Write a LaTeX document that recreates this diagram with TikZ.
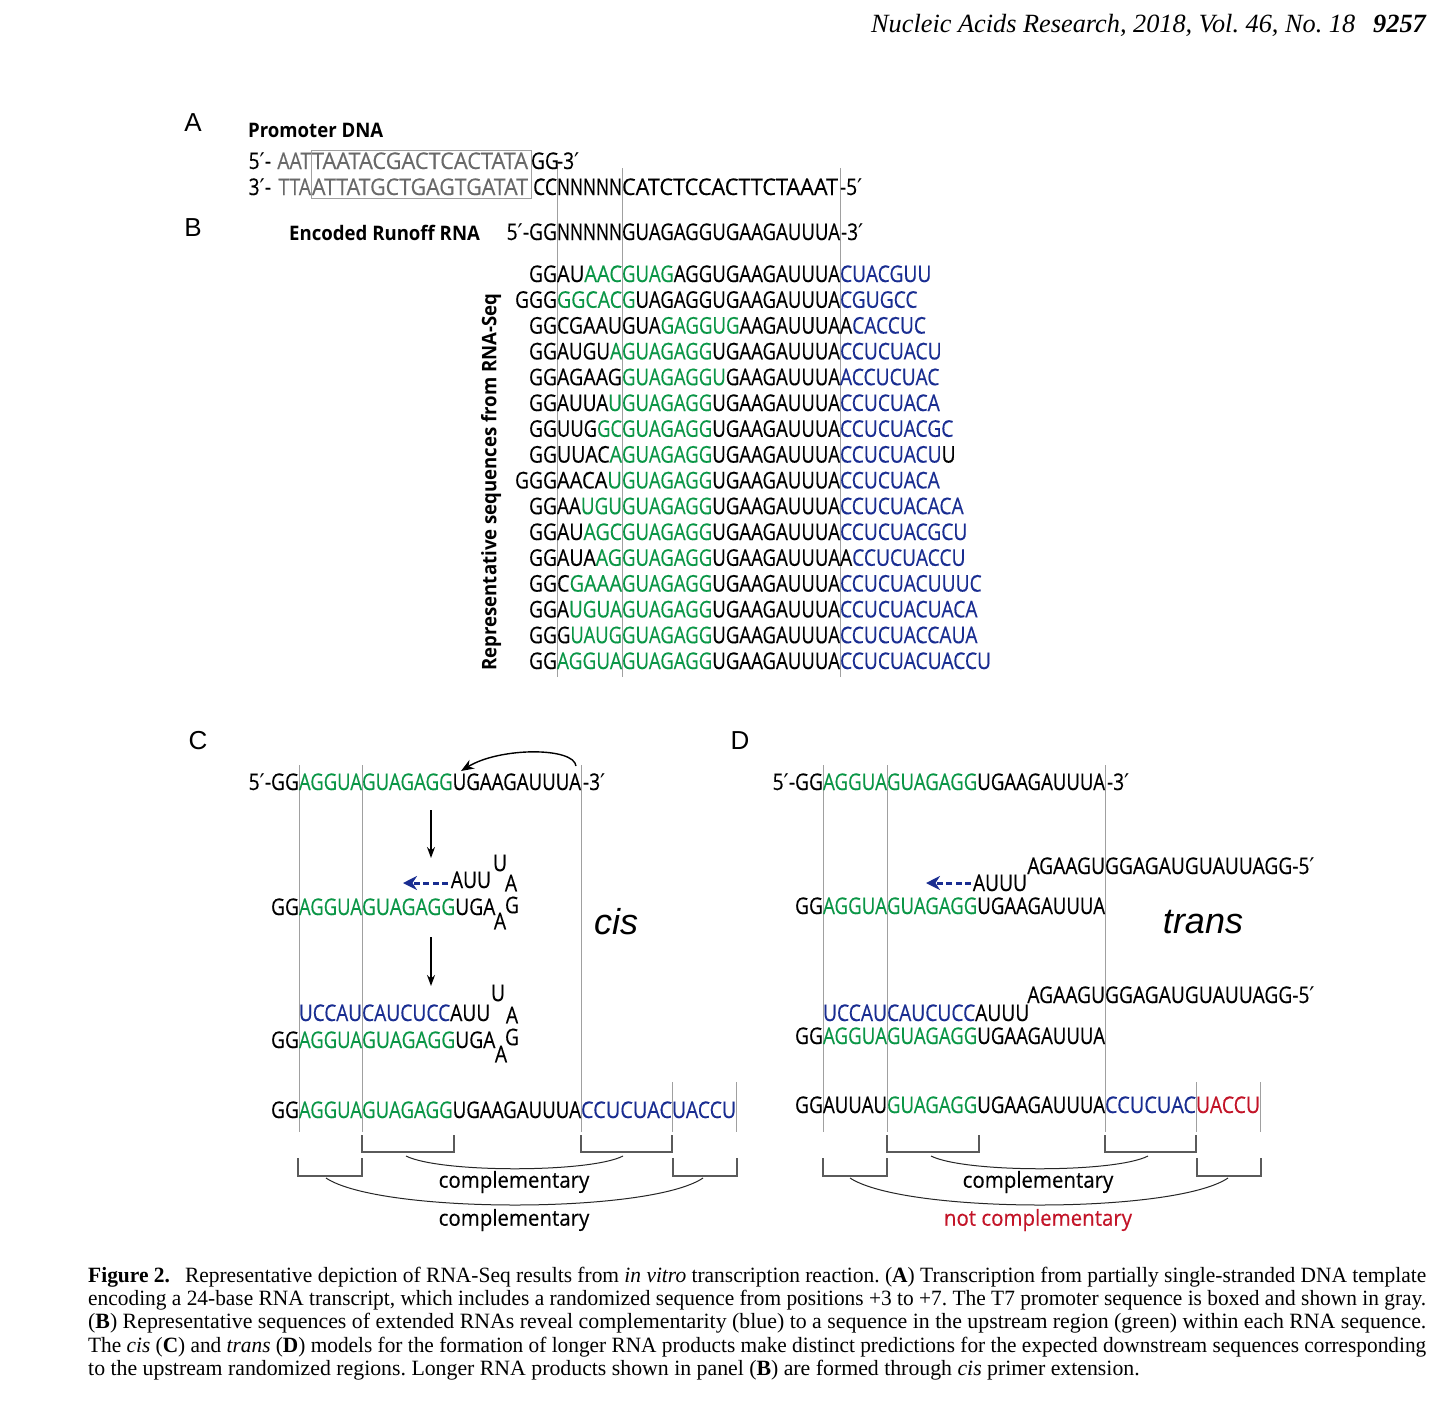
\documentclass[tikz,border=0pt]{standalone}
\usepackage{fontspec}
\usepackage{graphicx}
\usetikzlibrary{arrows.meta}
\setmainfont{Liberation Serif}
\newfontfamily\seqf[FakeStretch=0.835,FakeBold=0.35]{Open Sans}
\newfontfamily\labf[FakeStretch=0.93]{Open Sans}
\newfontfamily\compf[FakeStretch=0.93,FakeBold=0.3]{Open Sans}
\newfontfamily\helv{Liberation Sans}
\newfontfamily\djv{DejaVu Sans}
\definecolor{sgreen}{RGB}{10,150,70}
\definecolor{sblue}{RGB}{25,45,145}
\definecolor{sred}{RGB}{195,20,40}
\definecolor{sgray}{RGB}{105,105,105}
\definecolor{lgray}{RGB}{160,160,160}
\definecolor{dgray}{RGB}{90,90,90}
\newcommand\pr{{\djv\char"2032}}
\newcommand\GR[1]{\textcolor{sgreen}{#1}}
\newcommand\BL[1]{\textcolor{sblue}{#1}}
\newcommand\RD[1]{\textcolor{sred}{#1}}
\newcommand\fitw[2]{\resizebox{#1}{\height}{#2}}
\newcommand\capline[1]{\resizebox{1338pt}{\height}{#1}}
\newcommand\core{\GR{GUAGAGG}UGAAGAUUUA}
\newcommand\brow[6]{%
  \node[seq,anchor=base east] (#1p) at (557,#2) {#3};
  \node[seq,anchor=base west] (#1r) at (557,#2) {\fitw{65pt}{#4}};
  \node[seq,anchor=base west] (#1c) at (622,#2) {\fitw{218pt}{#5}};
  \node[seq,anchor=base west] (#1e) at (840,#2) {#6};}
\frenchspacing
\tikzset{
  seq/.style={inner sep=0pt, outer sep=0pt, font=\seqf\fontsize{23}{27}\selectfont},
  lab/.style={inner sep=0pt, font=\labf\bfseries\fontsize{20}{24}\selectfont},
  comp/.style={inner sep=0pt, font=\compf\fontsize{22}{26}\selectfont},
  panel/.style={inner sep=0pt, font=\helv\fontsize{26}{30}\selectfont},
  itl/.style={inner sep=0pt, font=\helv\itshape\fontsize{36}{40}\selectfont},
  captxt/.style={inner sep=0pt, font=\fontsize{21.8}{25}\selectfont},
  vline/.style={draw=lgray, line width=1pt},
  brk/.style={draw=dgray, line width=1.1pt},
  arcl/.style={draw=black!85, line width=1pt},
  dn/.style={-{Stealth[length=11pt,width=8pt]}, line width=1.4pt},
  curv/.style={-{Stealth[length=13pt,width=10pt]}, line width=1.4pt},
  bdash/.style={draw=sblue, line width=3pt, dash pattern=on 6pt off 3.5pt, -{Stealth[length=14pt,width=14pt]}}
}
\begin{document}
\begin{tikzpicture}[x=1pt,y=-1pt]
\fill[white] (0,0) rectangle (1456,1413);
\useasboundingbox (0,0) rectangle (1456,1413);

% header
\node[inner sep=0pt, anchor=base east, font=\fontsize{26.3}{29}\selectfont] (hdr) at (1426,33)
  {\itshape Nucleic Acids Research, 2018, Vol. 46, No. 18\hspace{18pt}\bfseries 9257};

% panel labels
\node[panel] (pA) at (193,123) {A};
\node[panel] (pB) at (193,228) {B};
\node[panel] (pC) at (198,741) {C};
\node[panel] (pD) at (740,741) {D};

% vertical guide lines A/B
\draw[vline] (557,168) -- (557,677);
\draw[vline] (622,168) -- (622,677);
\draw[vline] (840,168) -- (840,677);

% Panel A
\node[lab, anchor=base west] (promo) at (248,137) {Promoter DNA};
\draw[draw=lgray, line width=1pt] (311,150) rectangle (531,198);
\node[seq, anchor=base east] (a1p) at (271,169) {5\pr-};
\node[seq, anchor=base east, text=sgray] (a1a) at (311,169) {AAT};
\node[seq, anchor=base west, text=sgray] (a1b) at (312,169) {\fitw{216pt}{TAATACGACTCACTATA}};
\node[seq, anchor=base west] (a1c) at (531,169) {GG};
\node[seq, anchor=base west] (a1d) at (557,169) {-3\pr};
\node[seq, anchor=base east] (a2p) at (271,195) {3\pr-};
\node[seq, anchor=base east, text=sgray] (a2a) at (311,195) {TTA};
\node[seq, anchor=base west, text=sgray] (a2b) at (312,195) {\fitw{216pt}{ATTATGCTGAGTGATAT}};
\node[seq, anchor=base east] (a2c) at (557,195) {CC};
\node[seq, anchor=base west] (a2d) at (557,195) {\fitw{65pt}{NNNNN}};
\node[seq, anchor=base west] (a2e) at (622,195) {\fitw{216pt}{CATCTCCACTTCTAAAT}};
\node[seq, anchor=base west] (a2f) at (840,195) {-5\pr};

% Panel B
\node[lab, anchor=base west] (enc) at (289,240) {Encoded Runoff RNA};
\node[seq, anchor=base east] (e0p) at (557,240) {5\pr-GG};
\node[seq, anchor=base west] (e0r) at (557,240) {\fitw{65pt}{NNNNN}};
\node[seq, anchor=base west] (e0c) at (622,240) {\fitw{218pt}{GUAGAGGUGAAGAUUUA}};
\node[seq, anchor=base west] (e0e) at (841,240) {-3\pr};

\node[lab, rotate=90] (rlab) at (491,482) {Representative sequences from RNA-Seq};

\brow{r1}{282}{GG}{AU\GR{AAC}}{\GR{GUAG}AGGUGAAGAUUUA}{\BL{CUACGUU}}
\brow{r2}{307.8}{GGG}{\GR{GGCAC}}{\GR{G}UAGAGGUGAAGAUUUA}{\BL{CGUGCC}}
\brow{r3}{333.6}{GG}{CGAAU}{GUA\GR{GAGGUG}AAGAUUUA}{A\BL{CACCUC}}
\brow{r4}{359.4}{GG}{AUGU\GR{A}}{\core}{\BL{CCUCUACU}}
\brow{r5}{385.2}{GG}{AGAAG}{\GR{GUAGAGGU}GAAGAUUUA}{\BL{ACCUCUAC}}
\brow{r6}{411}{GG}{AUUA\GR{U}}{\core}{\BL{CCUCUACA}}
\brow{r7}{436.8}{GG}{UUG\GR{GC}}{\core}{\BL{CCUCUACGC}}
\brow{r8}{462.6}{GG}{UUAC\GR{A}}{\core}{\BL{CCUCUACU}U}
\brow{r9}{488.4}{GGG}{AACA\GR{U}}{\core}{\BL{CCUCUACA}}
\brow{r10}{514.2}{GG}{AA\GR{UGU}}{\core}{\BL{CCUCUACACA}}
\brow{r11}{540}{GG}{AU\GR{AGC}}{\core}{\BL{CCUCUACGCU}}
\brow{r12}{565.8}{GG}{AUA\GR{AG}}{\core}{A\BL{CCUCUACCU}}
\brow{r13}{591.6}{GG}{C\GR{GAAA}}{\core}{\BL{CCUCUACUUUC}}
\brow{r14}{617.4}{GG}{A\GR{UGUA}}{\core}{\BL{CCUCUACUACA}}
\brow{r15}{643.2}{GG}{G\GR{UAUG}}{\core}{\BL{CCUCUACCAUA}}
\brow{r16}{669}{GG}{\GR{AGGUA}}{\core}{\BL{CCUCUACUACCU}}

% ---------------- Panel C ----------------
\draw[vline] (299,765) -- (299,1132);
\draw[vline] (362,765) -- (362,1132);
\draw[vline] (581,765) -- (581,1132);
\draw[vline] (672,1082) -- (672,1132);
\draw[vline] (736,1082) -- (736,1132);

\node[seq, anchor=base east] (c0p) at (299,790) {5\pr-GG};
\node[seq, anchor=base west] (c0r) at (299,790) {\fitw{63pt}{\GR{AGGUA}}};
\node[seq, anchor=base west] (c0c) at (362,790) {\fitw{219pt}{\core}};
\node[seq, anchor=base west] (c0e) at (583,790) {-3\pr};
\coordinate (cvs) at (576,766);
\coordinate (cve) at (461,771);
\draw[curv] (cvs) .. controls (574,747) and (500,747) .. (cve);

\coordinate (c1a) at (431,810);
\coordinate (c1b) at (431,858);
\draw[dn] (c1a) -- (c1b);

% hairpin 1
\node[seq, anchor=base east] (c1t) at (491,888) {AUU};
\node[seq] (c1u) at (500,863) {U};
\node[seq] (c1x) at (511,883) {A};
\node[seq] (c1g) at (512,905) {G};
\node[seq] (c1y) at (500,921) {A};
\node[seq, anchor=base east] (c1p) at (299,915) {GG};
\node[seq, anchor=base west] (c1r) at (299,915) {\fitw{63pt}{\GR{AGGUA}}};
\node[seq, anchor=base west] (c1c) at (362,915) {\GR{GUAGAGG}UGA};
\coordinate (c1ds) at (448,883);
\coordinate (c1de) at (403,883);
\draw[bdash] (c1ds) -- (c1de);

\coordinate (c2a) at (431,937);
\coordinate (c2b) at (431,986);
\draw[dn] (c2a) -- (c2b);

% hairpin 2
\node[seq, anchor=base west] (c2s) at (299,1021) {\fitw{63pt}{\BL{UCCAU}}};
\node[seq, anchor=base west] (c2t) at (362,1021) {\BL{CAUCUCC}AUU};
\node[seq] (c2u) at (498,993) {U};
\node[seq] (c2x) at (512,1015) {A};
\node[seq] (c2g) at (512,1037) {G};
\node[seq] (c2y) at (501,1054) {A};
\node[seq, anchor=base east] (c2p) at (299,1048) {GG};
\node[seq, anchor=base west] (c2r) at (299,1048) {\fitw{63pt}{\GR{AGGUA}}};
\node[seq, anchor=base west] (c2c) at (362,1048) {\GR{GUAGAGG}UGA};

\node[itl] (cis) at (616,922) {cis};

% bottom C
\node[seq, anchor=base east] (c3p) at (299,1118) {GG};
\node[seq, anchor=base west] (c3r) at (299,1118) {\fitw{63pt}{\GR{AGGUA}}};
\node[seq, anchor=base west] (c3c) at (362,1118) {\fitw{219pt}{\core}};
\node[seq, anchor=base west] (c3e) at (581,1118) {\fitw{91pt}{\BL{CCUCUAC}}};
\node[seq, anchor=base west] (c3f) at (672,1118) {\fitw{64pt}{\BL{UACCU}}};

\draw[brk] (362,1135) |- (454,1152) -- (454,1135);
\draw[brk] (581,1135) |- (672,1152) -- (672,1135);
\draw[brk] (298,1158) |- (362,1176) -- (362,1158);
\draw[brk] (673,1158) |- (737,1176) -- (737,1158);
\draw[arcl] (406,1156) .. controls (440,1173) and (590,1173) .. (623,1156);
\draw[arcl] (326,1178) .. controls (380,1214) and (650,1214) .. (703,1178);
\node[comp] (cc1) at (514,1182) {complementary};
\node[comp] (cc2) at (514,1220) {complementary};

% ---------------- Panel D ----------------
\draw[vline] (823,765) -- (823,1132);
\draw[vline] (887,765) -- (887,1132);
\draw[vline] (1105,765) -- (1105,1132);
\draw[vline] (1196,1082) -- (1196,1132);
\draw[vline] (1260,1082) -- (1260,1132);

\node[seq, anchor=base east] (d0p) at (823,790) {5\pr-GG};
\node[seq, anchor=base west] (d0r) at (823,790) {\fitw{64pt}{\GR{AGGUA}}};
\node[seq, anchor=base west] (d0c) at (887,790) {\fitw{218pt}{\core}};
\node[seq, anchor=base west] (d0e) at (1107,790) {-3\pr};

% duplex 1
\node[seq, anchor=base east] (d1t) at (1105,874) {AGAAGU};
\node[seq, anchor=base west] (d1u) at (1105,874) {GGAGAUGUAUUAGG-5\pr};
\node[seq, anchor=base east] (d1a) at (1027,891) {AUUU};
\coordinate (d1ds) at (971,883);
\coordinate (d1de) at (926,883);
\draw[bdash] (d1ds) -- (d1de);
\node[seq, anchor=base east] (d1p) at (823,914) {GG};
\node[seq, anchor=base west] (d1r) at (823,914) {\fitw{64pt}{\GR{AGGUA}}};
\node[seq, anchor=base west] (d1c) at (887,914) {\fitw{218pt}{\core}};

\node[itl] (trans) at (1203,922) {trans};

% duplex 2
\node[seq, anchor=base east] (d2t) at (1105,1003) {AGAAGU};
\node[seq, anchor=base west] (d2u) at (1105,1003) {GGAGAUGUAUUAGG-5\pr};
\node[seq, anchor=base west] (d2s) at (823,1021) {\fitw{64pt}{\BL{UCCAU}}};
\node[seq, anchor=base west] (d2a) at (887,1021) {\BL{CAUCUCC}AUUU};
\node[seq, anchor=base east] (d2p) at (823,1044) {GG};
\node[seq, anchor=base west] (d2r) at (823,1044) {\fitw{64pt}{\GR{AGGUA}}};
\node[seq, anchor=base west] (d2c) at (887,1044) {\fitw{218pt}{\core}};

% bottom D
\node[seq, anchor=base east] (d3p) at (823,1113) {GG};
\node[seq, anchor=base west] (d3r) at (823,1113) {\fitw{64pt}{AUUAU}};
\node[seq, anchor=base west] (d3c) at (887,1113) {\fitw{218pt}{\core}};
\node[seq, anchor=base west] (d3e) at (1105,1113) {\fitw{91pt}{\BL{CCUCUAC}}};
\node[seq, anchor=base west] (d3f) at (1196,1113) {\fitw{64pt}{\RD{UACCU}}};

\draw[brk] (887,1135) |- (979,1152) -- (979,1135);
\draw[brk] (1105,1135) |- (1196,1152) -- (1196,1135);
\draw[brk] (823,1158) |- (887,1176) -- (887,1158);
\draw[brk] (1197,1158) |- (1261,1176) -- (1261,1158);
\draw[arcl] (931,1156) .. controls (965,1173) and (1115,1173) .. (1148,1156);
\draw[arcl] (850,1178) .. controls (905,1214) and (1175,1214) .. (1228,1178);
\node[comp] (dc1) at (1038,1182) {complementary};
\node[comp, text=sred] (dc2) at (1038,1220) {not complementary};

% caption
\node[captxt, anchor=base west] (cap1) at (88,1282) {\capline{\textbf{Figure 2.}\hspace{0.45em} Representative depiction of RNA-Seq results from \textit{in vitro} transcription reaction. (\textbf{A}) Transcription from partially single-stranded DNA template}};
\node[captxt, anchor=base west] (cap2) at (88,1305) {\capline{encoding a 24-base RNA transcript, which includes a randomized sequence from positions +3 to +7. The T7 promoter sequence is boxed and shown in gray.}};
\node[captxt, anchor=base west] (cap3) at (88,1328) {\capline{(\textbf{B}) Representative sequences of extended RNAs reveal complementarity (blue) to a sequence in the upstream region (green) within each RNA sequence.}};
\node[captxt, anchor=base west] (cap4) at (88,1352) {\capline{The \textit{cis} (\textbf{C}) and \textit{trans} (\textbf{D}) models for the formation of longer RNA products make distinct predictions for the expected downstream sequences corresponding}};
\node[captxt, anchor=base west] (cap5) at (88,1375) {to the upstream randomized regions. Longer RNA products shown in panel (\textbf{B}) are formed through \textit{cis} primer extension.};
\end{tikzpicture}
\end{document}
